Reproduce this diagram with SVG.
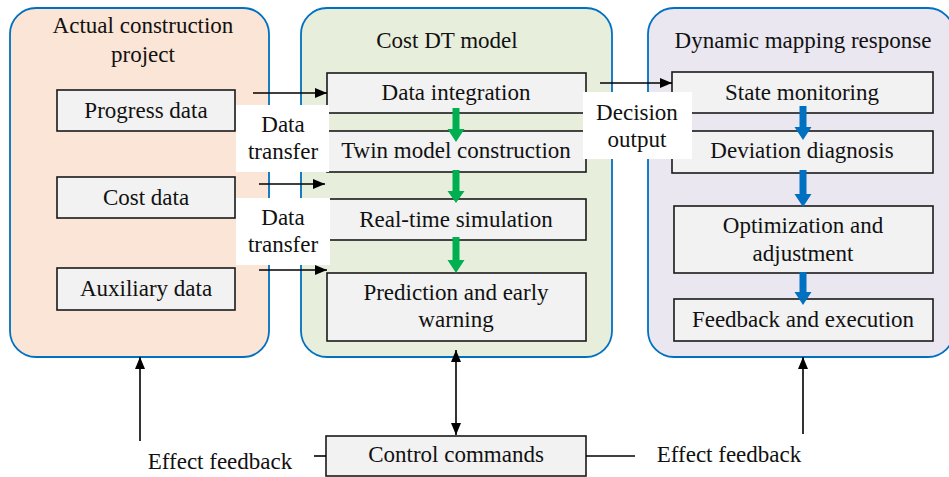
<svg xmlns="http://www.w3.org/2000/svg" width="949" height="477" viewBox="0 0 949 477" font-family="Liberation Serif, DejaVu Serif, serif">
  <defs>
    <marker id="arr" viewBox="0 0 12 10" refX="12" refY="5" markerWidth="12" markerHeight="10" markerUnits="userSpaceOnUse" orient="auto-start-reverse">
      <path d="M0,0 L12,5 L0,10 Z" fill="#000"/>
    </marker>
    <style>
      text { font-family: 'Liberation Serif', 'Times New Roman', serif; font-size: 23px; fill: #111; text-anchor: middle; }
      .panel { stroke: #0070C0; stroke-width: 1.8; }
      .box { fill: #F2F2F2; stroke: #1a1a1a; stroke-width: 1.6; }
      .line { stroke: #000; stroke-width: 1.6; fill: none; }
      .label { fill: #fff; stroke: none; }
    </style>
  </defs>

  <rect width="949" height="477" fill="#fff"/>

  <!-- Panels -->
  <g id="panel-project">
    <rect class="panel" x="10" y="8" width="259" height="349" rx="26" fill="#FBE5D6"/>
    <text x="143" y="33">Actual construction</text>
    <text x="143" y="62">project</text>
  </g>
  <g id="panel-model">
    <rect class="panel" x="301" y="8" width="311" height="349" rx="26" fill="#E7EEDC"/>
    <text x="447" y="48">Cost DT model</text>
  </g>
  <g id="panel-response">
    <rect class="panel" x="648" y="8" width="306" height="349" rx="26" fill="#EAE7F0"/>
    <text x="803" y="48">Dynamic mapping response</text>
  </g>

  <!-- Source data -->
  <g id="progress-data">
    <rect class="box" x="57" y="90" width="178" height="41"/>
    <text x="146" y="118">Progress data</text>
  </g>
  <g id="cost-data">
    <rect class="box" x="57" y="177" width="178" height="41"/>
    <text x="146" y="205">Cost data</text>
  </g>
  <g id="auxiliary-data">
    <rect class="box" x="57" y="268" width="178" height="42"/>
    <text x="146" y="296">Auxiliary data</text>
  </g>

  <!-- Model stages -->
  <g id="data-integration">
    <rect class="box" x="327" y="73" width="259" height="40"/>
    <text x="456" y="100">Data integration</text>
  </g>
  <g id="twin-model">
    <rect class="box" x="327" y="131" width="259" height="41"/>
    <text x="456" y="158">Twin model construction</text>
  </g>
  <g id="simulation">
    <rect class="box" x="327" y="199" width="259" height="41"/>
    <text x="456" y="227">Real-time simulation</text>
  </g>
  <g id="prediction">
    <rect class="box" x="327" y="273" width="259" height="68"/>
    <text x="456" y="300">Prediction and early</text>
    <text x="456" y="327">warning</text>
  </g>

  <!-- Response stages -->
  <g id="state-monitoring">
    <rect class="box" x="672" y="72" width="261" height="41"/>
    <text x="802" y="100">State monitoring</text>
  </g>
  <g id="deviation-diagnosis">
    <rect class="box" x="672" y="131" width="261" height="42"/>
    <text x="802" y="158">Deviation diagnosis</text>
  </g>
  <g id="optimization">
    <rect class="box" x="674" y="206" width="259" height="67"/>
    <text x="803" y="233">Optimization and</text>
    <text x="803" y="261">adjustment</text>
  </g>
  <g id="feedback-execution">
    <rect class="box" x="674" y="299" width="259" height="42"/>
    <text x="803" y="327">Feedback and execution</text>
  </g>

  <g id="control-commands">
    <rect class="box" x="326" y="436" width="260" height="40"/>
    <text x="456" y="462">Control commands</text>
  </g>

  <!-- Connectors -->
  <g id="connectors">
    <!-- data transfer into the model -->
    <line class="line" x1="253" y1="93" x2="327" y2="93" marker-end="url(#arr)"/>
    <line class="line" x1="259" y1="184" x2="325" y2="184" marker-end="url(#arr)"/>
    <line class="line" x1="259" y1="270" x2="327" y2="270" marker-end="url(#arr)"/>
    <!-- decision output -->
    <line class="line" x1="600" y1="83" x2="672" y2="83" marker-end="url(#arr)"/>

    <!-- stage flow, model -->
    <g fill="#00B050">
      <path d="M452.5,108 h7 v21 h5 l-8.5,13 l-8.5,-13 h5 z"/>
      <path d="M452.5,170 h7 v21 h5 l-8.5,12 l-8.5,-12 h5 z"/>
      <path d="M452.5,237 h7 v23 h5 l-8.5,13 l-8.5,-13 h5 z"/>
    </g>
    <!-- stage flow, response -->
    <g fill="#0070C0">
      <path d="M799.5,106 h7 v21 h5 l-8.5,13 l-8.5,-13 h5 z"/>
      <path d="M799.5,170 h7 v24 h5 l-8.5,13 l-8.5,-13 h5 z"/>
      <path d="M799.5,272 h7 v20 h5 l-8.5,13 l-8.5,-13 h5 z"/>
    </g>

    <!-- control loop -->
    <line class="line" x1="456" y1="350" x2="456" y2="435" marker-start="url(#arr)" marker-end="url(#arr)"/>
    <line class="line" x1="314" y1="456" x2="326" y2="456"/>
    <line class="line" x1="586" y1="456" x2="635" y2="456"/>
    <line class="line" x1="140" y1="441" x2="140" y2="357" marker-end="url(#arr)"/>
    <line class="line" x1="803" y1="434" x2="803" y2="357" marker-end="url(#arr)"/>
  </g>

  <!-- Connector labels -->
  <g id="label-transfer-1">
    <rect class="label" x="236" y="105" width="93" height="67"/>
    <text x="283" y="132">Data</text>
    <text x="283" y="159">transfer</text>
  </g>
  <g id="label-transfer-2">
    <rect class="label" x="236" y="198" width="94" height="67"/>
    <text x="283" y="225">Data</text>
    <text x="283" y="252">transfer</text>
  </g>
  <g id="label-decision">
    <rect class="label" x="583" y="92" width="109" height="67"/>
    <text x="637" y="120">Decision</text>
    <text x="637" y="147">output</text>
  </g>
  <g id="label-feedback-left">
    <text x="220" y="469">Effect feedback</text>
  </g>
  <g id="label-feedback-right">
    <text x="729" y="462">Effect feedback</text>
  </g>
</svg>
